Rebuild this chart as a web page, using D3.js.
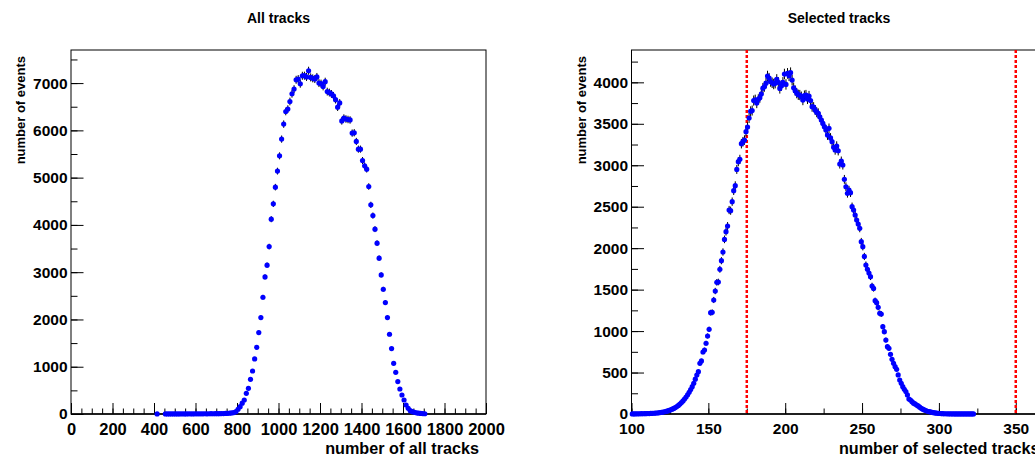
<!DOCTYPE html>
<html>
<head>
<meta charset="utf-8">
<script src="https://cdn.jsdelivr.net/npm/d3@7"></script>
<style>
  body { margin: 0; background: #fff; }
  svg { display: block; font-family: "Liberation Sans", Arial, sans-serif; font-weight: bold; }
</style>
</head>
<body>
<svg class="chart" width="1035" height="458"></svg>
<script>
// All tracks: bins of 10, first bin centre 415
const allStart = 410
const allBinWidth = 10
const allCounts = [
  1, 0, 0, 0, 1, 1, 2, 1, 2, 2,
  1, 2, 3, 2, 2, 3, 3, 2, 4, 3,
  4, 3, 4, 5, 4, 5, 6, 5, 6, 6,
  7, 8, 10, 12, 15, 18, 22, 30, 50, 100,
  155, 230, 296, 437, 543, 734, 910, 1164, 1411, 1722,
  2039, 2470, 2900, 3148, 3542, 4121, 4445, 4799, 5138, 5461,
  5815, 6132, 6399, 6450, 6611, 6774, 6873, 7070, 7085, 6986,
  7155, 7157, 7130, 7261, 7120, 7100, 7085, 7130, 7000, 6990,
  6930, 7030, 6820, 6800, 6770, 6730, 6650, 6490, 6580, 6200,
  6260, 6240, 6230, 6220, 5942, 5950, 5765, 5603, 5603, 5362,
  5250, 5180, 4812, 4424, 4198, 3910, 3613, 3296, 2942, 2639,
  2357, 2039, 1687, 1383, 1073, 882, 685, 529, 402, 296,
  190, 120, 70, 50, 35, 25, 18, 12, 8, 5
]

// Selected tracks: bins of 1 starting at 100
const selStart = 100
const selBinWidth = 1
const selCounts = [
  1, 2, 1, 3, 2, 3, 4, 3, 5, 4,
  6, 5, 7, 8, 9, 11, 12, 14, 17, 19,
  23, 27, 31, 37, 43, 50, 58, 67, 78, 90,
  104, 120, 138, 158, 180, 205, 232, 262, 295, 330,
  370, 420, 470, 511, 611, 640, 748, 772, 853, 941,
  1021, 1222, 1226, 1375, 1483, 1588, 1592, 1745, 1849, 1954,
  2106, 2199, 2267, 2460, 2452, 2561, 2693, 2754, 2950, 3043,
  3071, 3260, 3284, 3304, 3405, 3460, 3570, 3650, 3660, 3780,
  3790, 3750, 3795, 3815, 3860, 3930, 3950, 3990, 4076, 4050,
  4010, 3995, 3980, 3990, 4035, 4000, 3927, 3960, 4000, 4100,
  3975, 4108, 4080, 4116, 4027, 3935, 3900, 3870, 3850, 3847,
  3827, 3786, 3840, 3847, 3800, 3835, 3780, 3706, 3700, 3666,
  3640, 3626, 3585, 3545, 3505, 3465, 3425, 3364, 3445, 3330,
  3284, 3216, 3184, 3232, 3175, 3015, 3050, 3003, 2830, 2741,
  2661, 2700, 2669, 2500, 2460, 2400, 2340, 2291, 2239, 2078,
  2018, 1900, 1797, 1745, 1700, 1656, 1544, 1515, 1367, 1343,
  1286, 1214, 1206, 1053, 993, 892, 812, 792, 720, 659,
  611, 571, 539, 471, 410, 370, 330, 298, 270, 230,
  181, 169, 149, 130, 121, 108, 97, 82, 69, 58,
  49, 42, 33, 29, 25, 20, 16, 13, 10, 8,
  6, 5, 4, 3, 3, 2, 2, 1, 2, 1,
  1, 1, 1, 1, 1, 1, 1, 1, 1, 1,
  1, 1, 1
]

const cutValues = [175, 350]

const panels = [
  {
    title: 'All tracks', xTitle: 'number of all tracks', yTitle: 'number of events',
    start: allStart, binWidth: allBinWidth, counts: allCounts,
    xDomain: [0, 2000], yDomain: [0, 7700],
    xMajor: d3.range(0, 2001, 200), xMinor: d3.range(0, 2001, 50),
    yMajor: d3.range(0, 7001, 1000), yMinor: d3.range(0, 7701, 500),
    xLabelSize: 16.5, cuts: []
  },
  {
    title: 'Selected tracks', xTitle: 'number of selected tracks', yTitle: 'number of events',
    start: selStart, binWidth: selBinWidth, counts: selCounts,
    xDomain: [100, 370], yDomain: [0, 4390],
    xMajor: d3.range(100, 351, 50), xMinor: d3.range(100, 370, 25),
    yMajor: d3.range(0, 4001, 500), yMinor: d3.range(0, 4390, 250),
    xLabelSize: 15.5, cuts: cutValues
  }
]

const padWidth = 560
const margin = { top: 50, left: 71 }
const width = 415, height = 364
const fmt = d3.format('d')

const svg = d3.select('.chart')

panels.forEach((p, i) => {
  const g = svg.append('g')
    .attr('transform', `translate(${i * padWidth + margin.left + (i ? 0.5 : 0)}, ${margin.top})`)

  const x = d3.scaleLinear().domain(p.xDomain).range([0, width])
  const y = d3.scaleLinear().domain(p.yDomain).range([height, 0])

  const pts = p.counts
    .map((n, k) => ({ x: p.start + (k + 0.5) * p.binWidth, n }))
    .filter(d => d.n > 0)

  // minor ticks
  g.append('g')
    .attr('transform', `translate(0, ${height})`)
    .call(d3.axisBottom(x).tickValues(p.xMinor).tickSize(-5.5).tickFormat(''))
  g.append('g')
    .call(d3.axisLeft(y).tickValues(p.yMinor).tickSize(-6.5).tickFormat(''))

  const xAxis = g.append('g')
    .attr('class', 'x axis')
    .attr('transform', `translate(0, ${height})`)
    .call(d3.axisBottom(x).tickValues(p.xMajor).tickSize(-11).tickSizeOuter(0).tickPadding(9).tickFormat(fmt))
  xAxis.selectAll('text').style('font-size', p.xLabelSize + 'px').attr('fill', '#000')

  const yAxis = g.append('g')
    .attr('class', 'y axis')
    .call(d3.axisLeft(y).tickValues(p.yMajor).tickSize(-12.5).tickSizeOuter(0).tickPadding(3.5).tickFormat(fmt))
  yAxis.selectAll('text').style('font-size', '15.5px').attr('fill', '#000')

  g.selectAll('.domain').remove()
  g.selectAll('.tick line').attr('stroke', '#000')

  g.append('rect')
    .attr('width', width)
    .attr('height', height)
    .attr('fill', 'none')
    .attr('stroke', '#000')

  g.append('line')
    .attr('x1', 0).attr('x2', width)
    .attr('y1', height).attr('y2', height)
    .attr('stroke', '#000')
    .attr('stroke-width', 1.6)

  g.selectAll('.cut')
    .data(p.cuts)
    .enter()
    .append('line')
    .attr('class', 'cut')
    .attr('x1', d => x(d)).attr('x2', d => x(d))
    .attr('y1', 0).attr('y2', height)
    .attr('stroke', '#ff0000')
    .attr('stroke-width', 2.5)
    .attr('stroke-dasharray', '3,2')

  g.selectAll('.err')
    .data(pts)
    .enter()
    .append('line')
    .attr('class', 'err')
    .attr('x1', d => x(d.x)).attr('x2', d => x(d.x))
    .attr('y1', d => y(d.n + Math.sqrt(d.n)))
    .attr('y2', d => y(Math.max(0, d.n - Math.sqrt(d.n))))
    .attr('stroke', '#000')
    .attr('stroke-width', 1)

  g.selectAll('.pt')
    .data(pts)
    .enter()
    .append('circle')
    .attr('class', 'pt')
    .attr('cx', d => x(d.x))
    .attr('cy', d => y(d.n))
    .attr('r', 2.6)
    .attr('fill', '#0000ff')

  g.append('text')
    .attr('x', width / 2)
    .attr('y', -27)
    .attr('text-anchor', 'middle')
    .style('font-size', '14px')
    .text(p.title)

  g.append('text')
    .attr('x', width - 7)
    .attr('y', height + 40)
    .attr('text-anchor', 'end')
    .style('font-size', '16.2px')
    .text(p.xTitle)

  g.append('text')
    .attr('transform', 'rotate(-90)')
    .attr('x', -6)
    .attr('y', -46)
    .attr('text-anchor', 'end')
    .style('font-size', '13px')
    .text(p.yTitle)
})
</script>
</body>
</html>
